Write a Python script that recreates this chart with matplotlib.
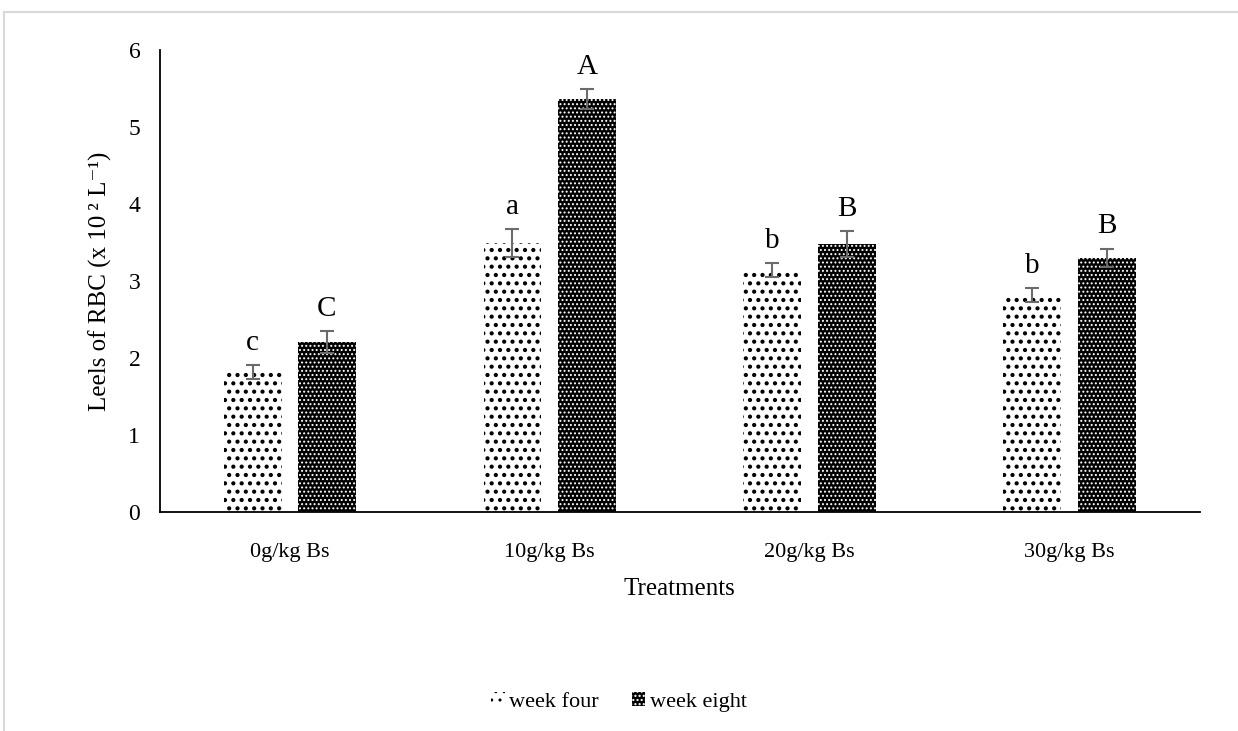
import matplotlib as mpl
import matplotlib.pyplot as plt
import numpy as np

plt.rcParams['font.family'] = ['Liberation Serif', 'DejaVu Serif']

treatments = ['0g/kg Bs', '10g/kg Bs', '20g/kg Bs', '30g/kg Bs']
week_four = [1.82, 3.49, 3.14, 2.82]
week_four_err = [0.09, 0.18, 0.09, 0.09]
week_eight = [2.21, 5.36, 3.48, 3.30]
week_eight_err = [0.14, 0.13, 0.17, 0.12]
letters_four = ['c', 'a', 'b', 'b']
letters_eight = ['C', 'A', 'B', 'B']

fig = plt.figure(figsize=(12.38, 7.31), dpi=100)
ax = fig.add_axes([0.129, 0.2996, 0.84, 0.632])

x = np.arange(len(treatments))
w = 0.223
off = 0.143

with mpl.rc_context({'hatch.linewidth': 1.8}):
    ax.bar(x - off, week_four, w, color='white', edgecolor='black', hatch='..',
           linewidth=0, label='week four')
with mpl.rc_context({'hatch.linewidth': 0.9}):
    ax.bar(x + off, week_eight, w, color='black', edgecolor='white', hatch='....',
           linewidth=0, label='week eight')
ax.errorbar(x - off, week_four, yerr=week_four_err, fmt='none', ecolor='#6b6b6b',
            elinewidth=1.5, capsize=5, capthick=1.5)
ax.errorbar(x + off, week_eight, yerr=week_eight_err, fmt='none', ecolor='#6b6b6b',
            elinewidth=1.5, capsize=5, capthick=1.5)

# significance letters
for i in range(len(treatments)):
    ax.text(x[i] - off, week_four[i] + week_four_err[i] + 0.2, letters_four[i],
            ha='center', va='baseline', fontsize=21)
    ax.text(x[i] + off, week_eight[i] + week_eight_err[i] + 0.2, letters_eight[i],
            ha='center', va='baseline', fontsize=21)

ax.set_xlim(-0.5, 3.5)
ax.set_ylim(0, 6)
ax.set_yticks(range(7))
ax.set_xticks(x)
ax.set_xticklabels(treatments)
ax.tick_params(axis='y', length=0, labelsize=17, pad=14)
ax.tick_params(axis='x', length=0, labelsize=16, pad=22)
ax.spines['top'].set_visible(False)
ax.spines['right'].set_visible(False)
ax.spines['left'].set_linewidth(1.3)
ax.spines['bottom'].set_linewidth(1.3)

ax.set_ylabel('Leels of RBC (x 10\u2009\u00b2 L\u207b\u00b9)', fontsize=18, labelpad=12)
ax.set_xlabel('Treatments', fontsize=18, labelpad=12)

fig.legend(loc='center', bbox_to_anchor=(0.5, 0.04), ncol=2, frameon=False,
           fontsize=16, handlelength=0.6, handleheight=0.6, columnspacing=1.5,
           handletextpad=0.2)

# light frame of the chart area
fig.add_artist(plt.Line2D([0.0035, 1.0], [0.984, 0.984], color='#d9d9d9', lw=1.5,
                          transform=fig.transFigure))
fig.add_artist(plt.Line2D([0.0035, 0.0035], [0.0, 0.984], color='#d9d9d9', lw=1.5,
                          transform=fig.transFigure))

fig.savefig('out.png', dpi=100)
